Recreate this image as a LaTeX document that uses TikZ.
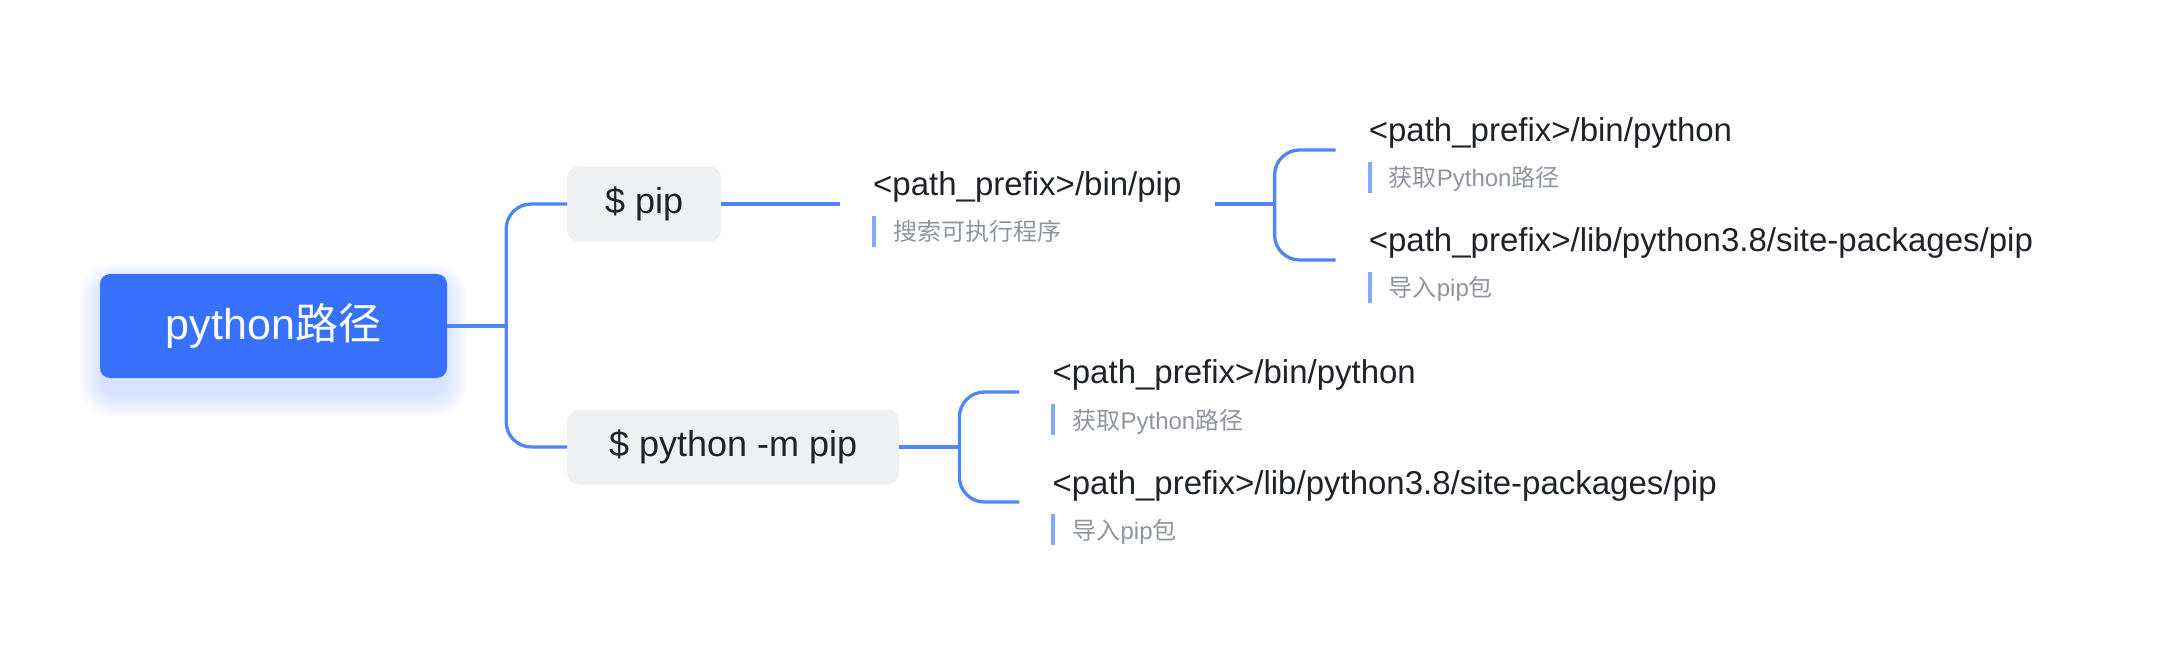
\documentclass[tikz,border=0pt]{standalone}
\usepackage{fontspec}
\setmainfont{Liberation Sans}
\newfontfamily\cjk{Noto Sans CJK SC}
\newcommand\zh[1]{{\cjk #1}}
\usetikzlibrary{calc}
\definecolor{rootblue}{HTML}{3772FF}
\definecolor{linkblue}{HTML}{4F86F7}
\definecolor{boxgray}{HTML}{EFF0F2}
\definecolor{titledark}{HTML}{1F2329}
\definecolor{notegray}{HTML}{8F959E}
\definecolor{notebarblue}{HTML}{82A7FB}
\begin{document}
\begin{tikzpicture}[x=1pt,y=1pt,yscale=-1,xscale=1,
  root/.style={fill=rootblue, text=white, rounded corners=10pt, minimum width=347pt, minimum height=104pt, font=\fontsize{43}{50}\selectfont},
  cmdbox/.style={fill=boxgray, text=titledark, rounded corners=12pt, inner xsep=38pt, minimum height=75pt, anchor=west, font=\fontsize{36}{43}\selectfont},
  leaf/.style={anchor=west, inner xsep=33pt, inner ysep=0pt, text height=10pt, text depth=26pt, text=titledark, font=\fontsize{33}{40}\selectfont},
  note/.style={anchor=base west, inner xsep=19pt, inner ysep=0pt, text height=25pt, text depth=6pt, text=notegray, font=\fontsize{24}{29}\selectfont,
    append after command={(\tikzlastnode.north west) edge[notebar] (\tikzlastnode.south west)}},
  notebar/.style={draw=notebarblue, line width=4pt},
  branch/.style={draw=linkblue, line width=3.3pt, rounded corners=25pt}]
\useasboundingbox (0,0) rectangle (2172,652);

% glow under the root
\foreach \g in {1,...,14} {
  \pgfmathsetmacro\grad{10+1.8*\g}
  \fill[rootblue, fill opacity=0.016, rounded corners=\grad pt] ($(104,274)+(-1.8*\g,-1.8*\g+14)$) rectangle ($(443,378)+(1.8*\g,1.8*\g+14)$);
}

\node[root] (root) at (273.5,326) {python\zh{路径}};
\node[cmdbox] (pip) at (567,204) {\$ pip};
\node[cmdbox, minimum width=332pt] (pym) at (567,447) {\$ python -m pip};

% pip branch
\node[leaf] (binpip) at (840,204) {<path\_prefix>/bin/pip};
\node[note] (binpipnote) at ($(binpip.base west)+(34,45)$) {\zh{搜索可执行程序}};
\coordinate (pipfork) at ($(binpip.east)+(60,0)$);
\node[leaf] (binpy1) at ($(pipfork)+(61,-54)$) {<path\_prefix>/bin/python};
\node[note] (binpy1note) at ($(binpy1.base west)+(34,45)$) {\zh{获取}Python\zh{路径}};
\node[leaf] (sitepip1) at ($(pipfork)+(61,56)$) {<path\_prefix>/lib/python3.8/site-packages/pip};
\node[note] (sitepip1note) at ($(sitepip1.base west)+(34,45)$) {\zh{导入}pip\zh{包}};

% python -m pip branch
\coordinate (pymfork) at ($(pym.east)+(60,0)$);
\node[leaf] (binpy2) at ($(pymfork)+(60,-55)$) {<path\_prefix>/bin/python};
\node[note] (binpy2note) at ($(binpy2.base west)+(34,45)$) {\zh{获取}Python\zh{路径}};
\node[leaf] (sitepip2) at ($(pymfork)+(60,55)$) {<path\_prefix>/lib/python3.8/site-packages/pip};
\node[note] (sitepip2note) at ($(sitepip2.base west)+(34,45)$) {\zh{导入}pip\zh{包}};

% connectors
\coordinate (rootfork) at ($(root.east)+(59,0)$);
\draw[branch] (root.east) -- (rootfork);
\draw[branch] (pip.west) -| (rootfork) |- (pym.west);
\draw[branch] (pip.east) -- (binpip.west);
\draw[branch] (binpip.east) -- (pipfork);
\draw[branch] (binpy1.west) -| (pipfork) |- (sitepip1.west);
\draw[branch] (pym.east) -- (pymfork);
\draw[branch] (binpy2.west) -| (pymfork) |- (sitepip2.west);
\end{tikzpicture}
\end{document}
